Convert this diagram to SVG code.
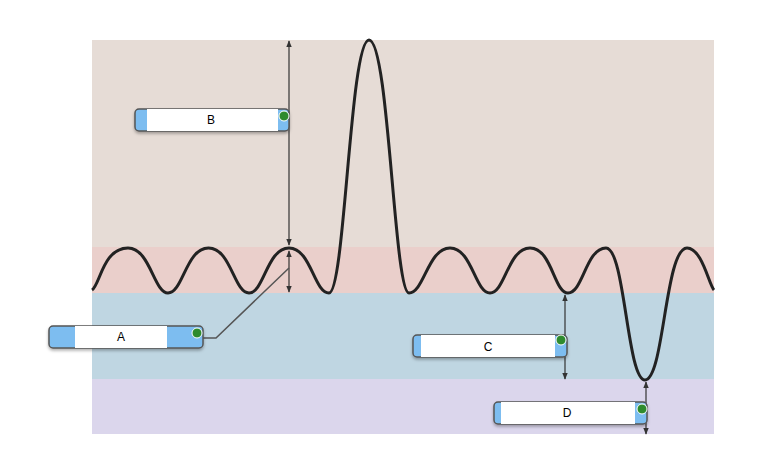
<svg xmlns="http://www.w3.org/2000/svg" width="762" height="473" viewBox="0 0 762 473">
<defs>
<marker id="ah" viewBox="0 0 10 10" refX="9" refY="5" markerWidth="6" markerHeight="6" orient="auto-start-reverse"><path d="M0,1 L10,5 L0,9 z" fill="#333"/></marker>
<filter id="sh" x="-10%" y="-30%" width="120%" height="170%"><feDropShadow dx="0" dy="2" stdDeviation="1.5" flood-opacity="0.3"/></filter>
</defs>
<style>
.lbl{fill:#7dbdf0;stroke:#555;stroke-width:1.5;filter:url(#sh)}
.wh{fill:#fff}
.t{font-family:"Liberation Sans",Arial,sans-serif;font-size:12px;text-anchor:middle;fill:#000}
.ok{fill:#2e8b2e;stroke:#fff;stroke-width:1}
.ar{stroke:#333;stroke-width:1.2;fill:none;marker-start:url(#ah);marker-end:url(#ah)}
</style>
<rect x="92" y="40" width="622" height="207" fill="#e6dcd6"/>
<rect x="92" y="247" width="622" height="46" fill="#eacfcb"/>
<rect x="92" y="293" width="622" height="86" fill="#bfd6e2"/>
<rect x="92" y="379" width="622" height="55" fill="#dbd6ec"/>
<path fill="none" stroke="#222" stroke-width="3" d="M92,290 C100,285 103,248 128,248 C150,248 154,293 168,293 C183,293 186,248 208.5,248 C231,248 234,293 249,293 C264,293 267,248 289,248 C311,248 314,293 329,293 C345,293 350,40 369,40 C389,40 394,293 409,293 C424,293 428,248 450,248 C472,248 475,293 490,293 C505,293 508,248 530,248 C552,248 554,293 568,293 C583,293 586,248 606,248 C625,248 627,380 645,380 C664,380 665,248 687,248 C702,248 709,285 714,290"/>
<g id="connectors">
<line class="ar" x1="289" y1="41" x2="289" y2="245"/>
<line class="ar" x1="289" y1="251" x2="289" y2="292"/>
<polyline points="203,338 216,338 289,268" fill="none" stroke="#555" stroke-width="1.5"/>
<line class="ar" x1="565" y1="295" x2="565" y2="379"/>
<line class="ar" x1="646" y1="382" x2="646" y2="434"/>
</g>
<g id="B"><rect class="lbl" x="135" y="109" width="154" height="22" rx="4"/><rect class="wh" x="147" y="109" width="131" height="22"/><circle class="ok" cx="284" cy="116" r="5"/><text class="t" x="211" y="124">B</text></g>
<g id="A"><rect class="lbl" x="49" y="326" width="154" height="22" rx="4"/><rect class="wh" x="75" y="326" width="92" height="22"/><circle class="ok" cx="197" cy="333" r="5"/><text class="t" x="121" y="341">A</text></g>
<g id="C"><rect class="lbl" x="413" y="335" width="154" height="22" rx="4"/><rect class="wh" x="421" y="335" width="134" height="22"/><circle class="ok" cx="561" cy="340" r="5"/><text class="t" x="488" y="351">C</text></g>
<g id="D"><rect class="lbl" x="494" y="402" width="153" height="22" rx="4"/><rect class="wh" x="501" y="402" width="134" height="22"/><circle class="ok" cx="642" cy="409" r="5"/><text class="t" x="567" y="417">D</text></g>
</svg>
